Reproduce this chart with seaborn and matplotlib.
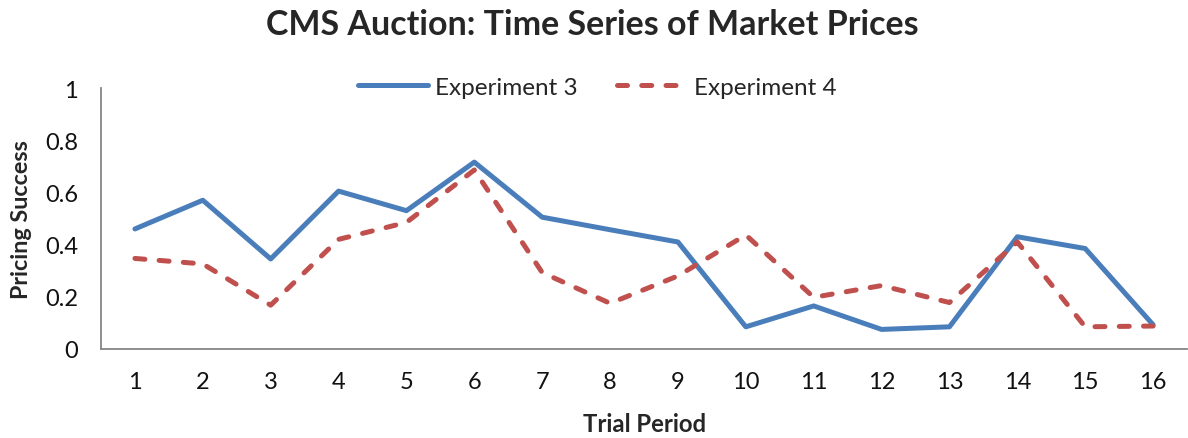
import matplotlib
matplotlib.use("Agg")
import matplotlib.pyplot as plt
import seaborn as sns
import pandas as pd
from matplotlib.ticker import FixedLocator

periods = [str(i) for i in range(1, 17)]
exp3 = [0.46, 0.57, 0.345, 0.605, 0.53, 0.716, 0.505, 0.457, 0.41, 0.085, 0.165, 0.075, 0.085, 0.43, 0.385, 0.093]
exp4 = [0.347, 0.326, 0.168, 0.42, 0.485, 0.686, 0.293, 0.175, 0.28, 0.437, 0.198, 0.243, 0.178, 0.41, 0.085, 0.088]
series_names = ["Experiment 3", "Experiment 4"]
y_ticks = [0, 0.2, 0.4, 0.6, 0.8, 1]
y_tick_labels = ["0", "0.2", "0.4", "0.6", "0.8", "1"]

sns.set_style("white")
plt.rcParams["font.family"] = ["Lato", "DejaVu Sans"]

W, H = 1188, 439
df = pd.DataFrame({
    "pos": list(range(len(periods))) * 2,
    "value": exp3 + exp4,
    "series": [series_names[0]] * len(periods) + [series_names[1]] * len(periods),
})

fig = plt.figure(figsize=(W / 100, H / 100), dpi=100)
ax = fig.add_axes([101 / W, 1 - 350 / H, (1187 - 101) / W, (350 - 89) / H])

palette = {series_names[0]: "#4A7EBB", series_names[1]: "#C0504D"}
dashes = {series_names[0]: "", series_names[1]: (2.0, 2.85)}
sns.lineplot(data=df, x="pos", y="value", hue="series", style="series",
             palette=palette, dashes=dashes, linewidth=3.6, ax=ax, legend=True,
             dash_capstyle="round")

ax.set_xlim(-0.5, len(periods) - 0.5)
ax.set_ylim(0, 1)
ax.set_xticks(range(len(periods)))
ax.set_xticklabels(periods, fontsize=17, color="#111111")
ax.xaxis.set_minor_locator(FixedLocator([i - 0.5 for i in range(len(periods) + 1)]))
ax.tick_params(axis="x", which="major", length=0, pad=16)
ax.tick_params(axis="x", which="minor", length=6, width=1.3, color="#868686", direction="out")
ax.set_yticks(y_ticks)
ax.set_yticklabels(y_tick_labels, fontsize=17, color="#111111")
ax.tick_params(axis="y", which="major", length=5.5, width=1.3, color="#868686", direction="out", pad=11)

for s in ["top", "right"]:
    ax.spines[s].set_visible(False)
for s in ["left", "bottom"]:
    ax.spines[s].set_color("#868686")
    ax.spines[s].set_linewidth(1.3)

ax.set_xlabel("Trial Period", fontsize=17.2, fontweight="bold")
ax.xaxis.label.set_va("baseline")
ax.xaxis.set_label_coords((644.5 - 101) / (1187 - 101), (350 - 432) / (350 - 89))
ax.set_ylabel("Pricing Success", fontsize=16.8, fontweight="bold")
ax.yaxis.label.set_va("center")
ax.yaxis.set_label_coords((22 - 101) / (1187 - 101), 0.5)

fig.text((265 + 920) / 2 / W, 1 - 35 / H, "CMS Auction: Time Series of Market Prices",
         fontsize=24.5, fontweight="bold", ha="center", va="baseline")

leg = ax.legend(loc="center left", bbox_to_anchor=(358 / W, 1 - 88 / H),
                bbox_transform=fig.transFigure, ncol=2, frameon=False,
                fontsize=17.5, handlelength=2.88, columnspacing=1.6,
                handletextpad=0.3, borderpad=0, borderaxespad=0)

fig.savefig("out.png", dpi=100)
